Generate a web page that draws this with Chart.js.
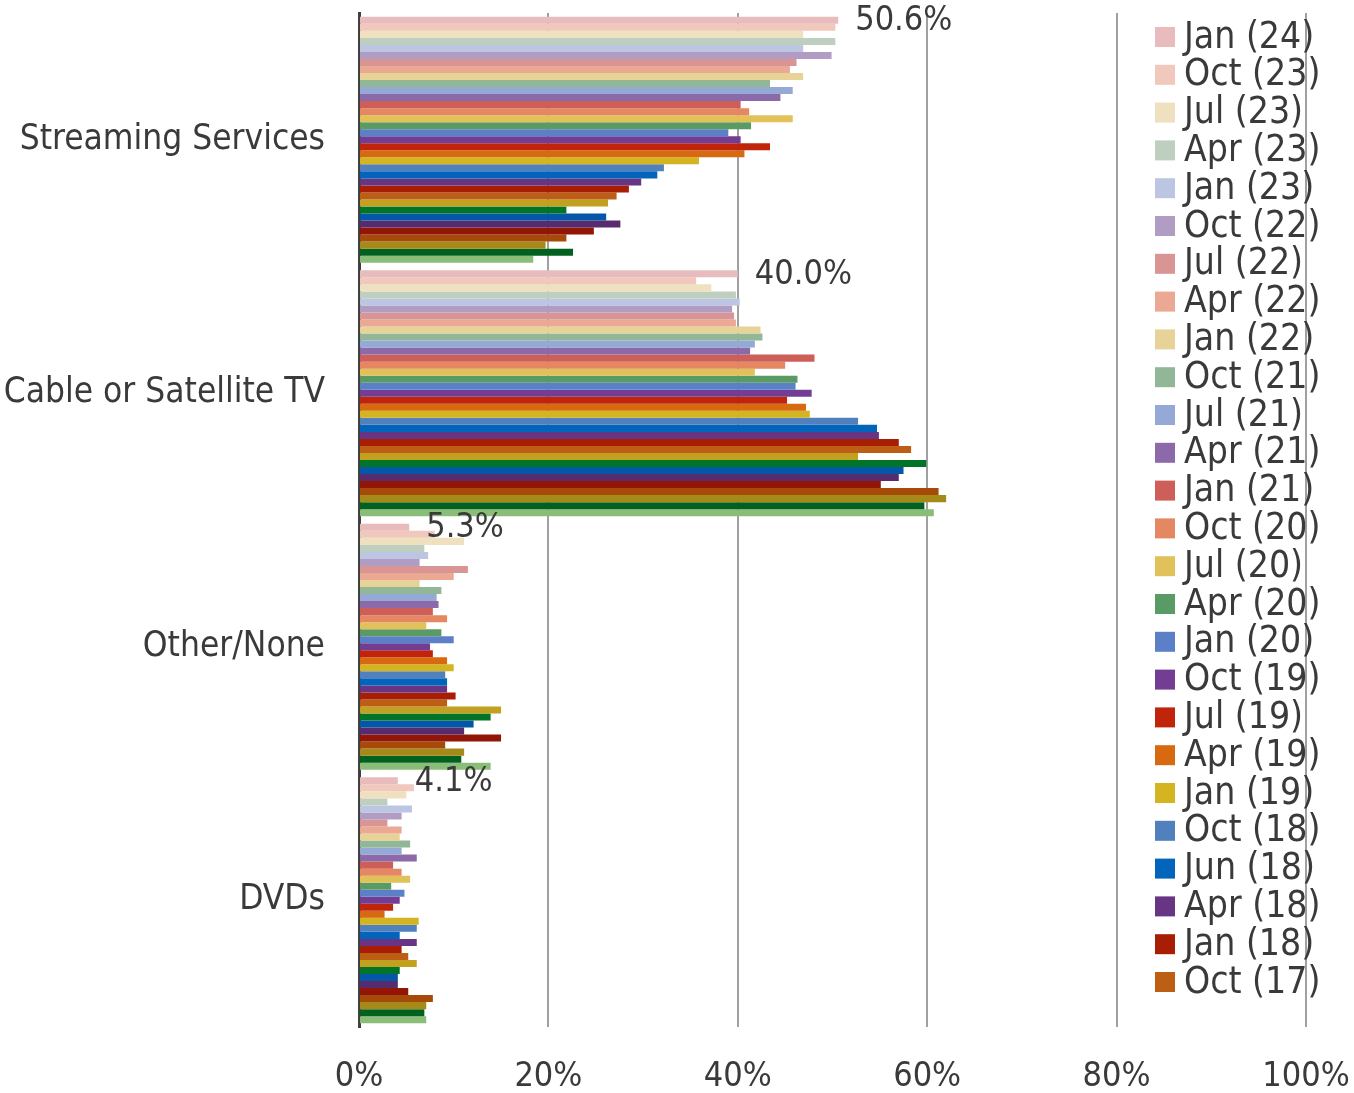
<!DOCTYPE html>
<html>
<head>
<meta charset="utf-8">
<script src="https://cdn.jsdelivr.net/npm/chart.js@4.4.1/dist/chart.umd.min.js"></script>
<style>
  html, body { margin: 0; padding: 0; background: #fff; }
  #wrap { width: 1354px; height: 1093px; }
</style>
</head>
<body>
<div id="wrap"><canvas id="surveyChart" width="1354" height="1093"></canvas></div>
<script>
const categories = ['Streaming Services', 'Cable or Satellite TV', 'Other/None', 'DVDs'];

const waves = [
    'Jan (24)', 'Oct (23)', 'Jul (23)', 'Apr (23)', 'Jan (23)', 'Oct (22)', 'Jul (22)', 'Apr (22)',
    'Jan (22)', 'Oct (21)', 'Jul (21)', 'Apr (21)', 'Jan (21)', 'Oct (20)', 'Jul (20)', 'Apr (20)',
    'Jan (20)', 'Oct (19)', 'Jul (19)', 'Apr (19)', 'Jan (19)', 'Oct (18)', 'Jun (18)', 'Apr (18)',
    'Jan (18)', 'Oct (17)', 'Jul (17)', 'Apr (17)', 'Jan (17)', 'Oct (16)', 'Jul (16)', 'Apr (16)',
    'Jan (16)', 'Oct (15)', 'Jul (15)'
];

const waveColors = [
    '#e8bcbc', '#f0c8bc', '#efe0bf', '#bfcfbf', '#bcc6e2', '#b19cc4', '#d99594', '#eba893',
    '#e7d298', '#92b797', '#94a9d5', '#8c6aaa', '#cd5f58', '#e58760', '#e1c25a', '#5a9a64',
    '#5b80c8', '#733d94', '#c0250c', '#d76a10', '#d4b420', '#5181bd', '#0264ba', '#673583',
    '#a81e04', '#bd5e15', '#c2a020', '#027428', '#0356a8', '#572c6e', '#921505', '#a54a08',
    '#a58a1a', '#02611f', '#8abe78'
];

// share per wave, in the order of waves above
const streaming = [
    50.6, 50.3, 46.9, 50.3, 46.9, 49.9, 46.2, 45.5, 46.9, 43.4, 45.8, 44.5, 40.3, 41.2, 45.8, 41.4,
    39.0, 40.3, 43.4, 40.7, 35.9, 32.2, 31.5, 29.8, 28.5, 27.2, 26.3, 21.9, 26.1, 27.6, 24.8, 21.9,
    19.7, 22.6, 18.4
];
const cable = [
    40.0, 35.6, 37.2, 39.8, 40.2, 39.4, 39.6, 39.8, 42.4, 42.6, 41.8, 41.3, 48.1, 45.0, 41.8, 46.3,
    46.1, 47.8, 45.2, 47.2, 47.6, 52.7, 54.7, 54.9, 57.0, 58.3, 52.7, 59.9, 57.5, 57.0, 55.1, 61.2,
    62.0, 59.7, 60.7
];
const otherNone = [
    5.3, 8.0, 11.1, 6.9, 7.3, 6.4, 11.5, 10.0, 6.4, 8.7, 8.2, 8.4, 7.8, 9.3, 7.1, 8.7,
    10.0, 7.5, 7.8, 9.3, 10.0, 9.1, 9.3, 9.3, 10.2, 9.3, 15.0, 13.9, 12.1, 11.1, 15.0, 9.1,
    11.1, 10.8, 13.9
];
const dvds = [
    4.1, 5.8, 5.0, 3.0, 5.6, 4.5, 3.0, 4.5, 4.3, 5.4, 4.5, 6.1, 3.6, 4.5, 5.4, 3.4,
    4.8, 4.3, 3.6, 2.7, 6.3, 6.1, 4.3, 6.1, 4.5, 5.2, 6.1, 4.3, 4.1, 4.1, 5.2, 7.8,
    7.1, 6.9, 7.1
];

const xTicks = [0, 20, 40, 60, 80, 100];

const textColor = '#3a3a3a';
const fontFamily = '"DejaVu Sans Condensed", "DejaVu Sans", Verdana, sans-serif';

const datasets = waves.map((name, i) => ({
    label: name,
    data: [streaming[i], cable[i], otherNone[i], dvds[i]],
    backgroundColor: waveColors[i],
    borderWidth: 0,
    barPercentage: 1.0,
    categoryPercentage: 0.97
}));

// value labels for the latest wave only
const latestLabels = {
    id: 'latestLabels',
    afterDatasetsDraw(chart) {
        const ctx = chart.ctx;
        const meta = chart.getDatasetMeta(0);
        ctx.save();
        ctx.font = '34px ' + fontFamily;
        ctx.fillStyle = textColor;
        ctx.textAlign = 'left';
        ctx.textBaseline = 'middle';
        meta.data.forEach((bar, i) => {
            ctx.fillText(datasets[0].data[i].toFixed(1) + '%', bar.x + 17, bar.y + 1);
        });
        ctx.restore();
    }
};

// legend sits inside the plot on the right, and runs off the bottom
const sideLegend = {
    id: 'sideLegend',
    afterDraw(chart) {
        const ctx = chart.ctx;
        ctx.save();
        ctx.font = '37px ' + fontFamily;
        ctx.textAlign = 'left';
        ctx.textBaseline = 'middle';
        for (let i = 0; i < waves.length; i++) {
            const cy = 37 + i * 37.8;
            if (cy > 1000) break;
            ctx.fillStyle = waveColors[i];
            ctx.fillRect(1155, cy - 10, 20, 20);
            ctx.fillStyle = textColor;
            ctx.fillText(waves[i], 1184, cy + 1);
        }
        ctx.restore();
    }
};

const noPad = axis => {
    axis.paddingTop = 0;
    axis.paddingBottom = 0;
    axis.paddingLeft = 0;
    axis.paddingRight = 0;
};

const ctx = document.getElementById('surveyChart').getContext('2d');

new Chart(ctx, {
    type: 'bar',
    data: {
        labels: categories,
        datasets: datasets
    },
    options: {
        indexAxis: 'y',
        responsive: false,
        animation: false,
        layout: { padding: { top: 13, right: 48, left: 0, bottom: 0 } },
        scales: {
            x: {
                min: 0,
                max: 100,
                afterBuildTicks: axis => { axis.ticks = xTicks.map(v => ({ value: v })); },
                afterFit: axis => { axis.height = 66; noPad(axis); },
                border: { display: false },
                grid: {
                    drawTicks: false,
                    lineWidth: 2,
                    color: c => c.tick && c.tick.value === 0 ? 'rgba(0,0,0,0)' : '#a0a0a0'
                },
                ticks: {
                    padding: 30,
                    color: textColor,
                    font: { size: 34, family: fontFamily },
                    callback: v => v + '%'
                }
            },
            y: {
                afterFit: axis => { axis.width = 359; noPad(axis); },
                grid: { display: false, drawTicks: false },
                border: { display: true, color: '#404040', width: 3 },
                ticks: {
                    padding: 34,
                    color: textColor,
                    font: { size: 35, family: fontFamily }
                }
            }
        },
        plugins: {
            legend: { display: false },
            tooltip: { enabled: false }
        }
    },
    plugins: [latestLabels, sideLegend]
});
</script>
</body>
</html>
